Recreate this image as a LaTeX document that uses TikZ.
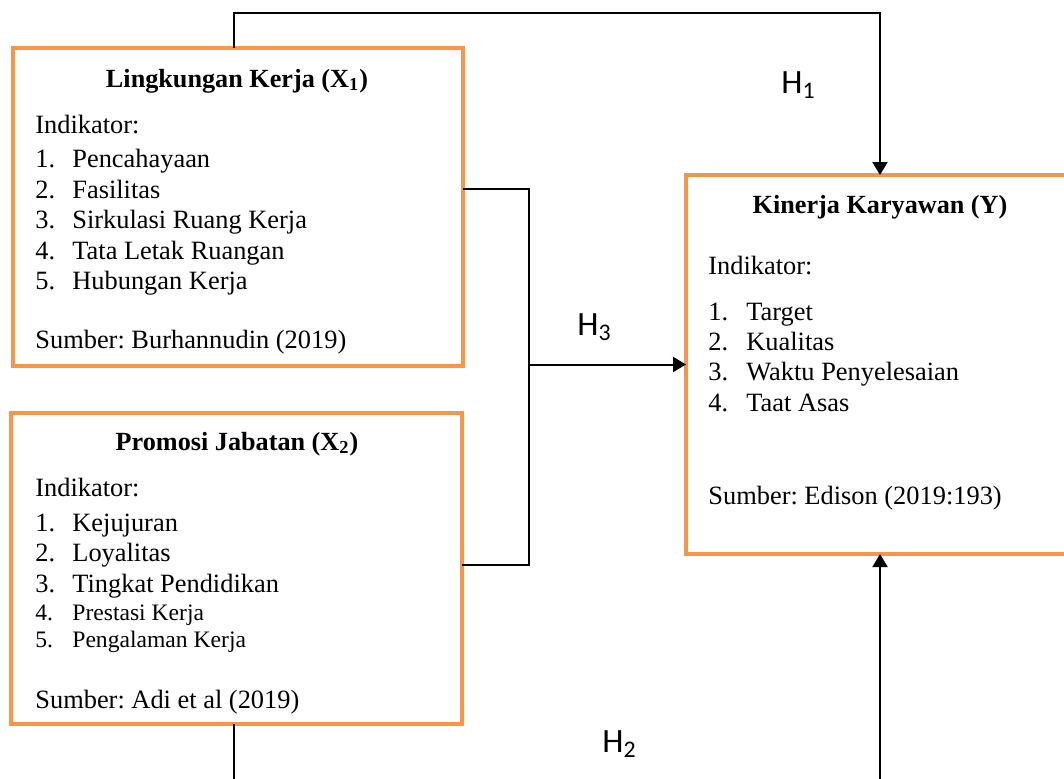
\documentclass[tikz,border=0pt]{standalone}
\usepackage{fontspec}
\setmainfont{Liberation Serif}
\newfontfamily\hfont{Carlito}
\usetikzlibrary{arrows.meta}
\definecolor{boxorange}{HTML}{F79646}
\frenchspacing
\begin{document}
\begin{tikzpicture}[x=0.5pt,y=-0.5pt,
  box/.style={draw=boxorange, line width=2pt, inner sep=0pt, outer sep=0pt},
  txt/.style={anchor=base west, inner sep=0pt, font=\fontsize{13.2}{15}\selectfont},
  small/.style={anchor=base west, inner sep=0pt, font=\fontsize{11.8}{13}\selectfont},
  ttl/.style={anchor=base, inner sep=0pt, font=\fontsize{13.1}{15}\selectfont\bfseries},
  hlab/.style={anchor=base west, inner sep=0pt, font=\hfont\fontsize{17}{20}\selectfont},
  conn/.style={line width=1pt, black},
  arr/.style={conn, -{Triangle[length=6.5pt,width=7.5pt]}}]
\useasboundingbox (0,0) rectangle (1064,778);
\clip (0,0) rectangle (1064,778);
% boxes
\node[box, minimum width=225pt, minimum height=159pt] (x1) at (237.7,207) {};
\node[box, minimum width=225.3pt, minimum height=155.6pt] (x2) at (236.3,568.3) {};
\node[box, minimum width=194pt, minimum height=189.5pt] (y) at (880,364.5) {};
% X1 text
\node[ttl] (x1t) at (237,87) {Lingkungan Kerja (X\textsubscript{1})};
\node[txt] (x1i) at (35,133) {Indikator:};
\node[txt] (x1a) at (35,167.5) {\makebox[18.5pt][l]{1.}Pencahayaan};
\node[txt] (x1b) at (35,198) {\makebox[18.5pt][l]{2.}Fasilitas};
\node[txt] (x1c) at (35,228.5) {\makebox[18.5pt][l]{3.}Sirkulasi Ruang Kerja};
\node[txt] (x1d) at (35,259) {\makebox[18.5pt][l]{4.}Tata Letak Ruangan};
\node[txt] (x1e) at (35,289.5) {\makebox[18.5pt][l]{5.}Hubungan Kerja};
\node[txt] (x1s) at (35,348.5) {Sumber: Burhannudin (2019)};
% X2 text
\node[ttl] (x2t) at (237,450) {Promosi Jabatan (X\textsubscript{2})};
\node[txt] (x2i) at (35,496.5) {Indikator:};
\node[txt] (x2a) at (35,531) {\makebox[18.5pt][l]{1.}Kejujuran};
\node[txt] (x2b) at (35,561.7) {\makebox[18.5pt][l]{2.}Loyalitas};
\node[txt] (x2c) at (35,592.3) {\makebox[18.5pt][l]{3.}Tingkat Pendidikan};
\node[small] (x2d) at (35,620) {\makebox[18.5pt][l]{4.}Prestasi Kerja};
\node[small] (x2e) at (35,647) {\makebox[18.5pt][l]{5.}Pengalaman Kerja};
\node[txt] (x2s) at (35,708) {Sumber: Adi et al (2019)};
% Y text
\node[ttl] (yt) at (880,213) {Kinerja Karyawan (Y)};
\node[txt] (yi) at (708,274) {Indikator:};
\node[txt] (ya) at (708,320) {\makebox[19pt][l]{1.}Target};
\node[txt] (yb) at (708,350.7) {\makebox[19pt][l]{2.}Kualitas};
\node[txt] (yc) at (708,380.7) {\makebox[19pt][l]{3.}Waktu Penyelesaian};
\node[txt] (yd) at (708,411) {\makebox[19pt][l]{4.}Taat Asas};
\node[txt] (ys) at (708,504) {Sumber: Edison (2019:193)};
% labels
\node[hlab] (h1) at (781,93) {H\textsubscript{1}};
\node[hlab] (h3) at (577,335) {H\textsubscript{3}};
\node[hlab] (h2) at (602,752.5) {H\textsubscript{2}};
% connectors
\coordinate (top) at (234,12.7);
\coordinate (j1) at (529,189);
\coordinate (j2) at (529,565);
\coordinate (j) at (529,364.5);
\coordinate (bot) at (0,790);
\draw[arr] (x1.north -| top) -- (top) -| (y.north);
\draw[conn] (j1 -| x1.east) -- (j1) -- (j2) -- (j2 -| x2.east);
\draw[arr] (j) -- (y.west);
\draw[conn] (x2.south -| top) -- (top |- bot);
\draw[arr] (y.south |- bot) -- (y.south);
\end{tikzpicture}
\end{document}
